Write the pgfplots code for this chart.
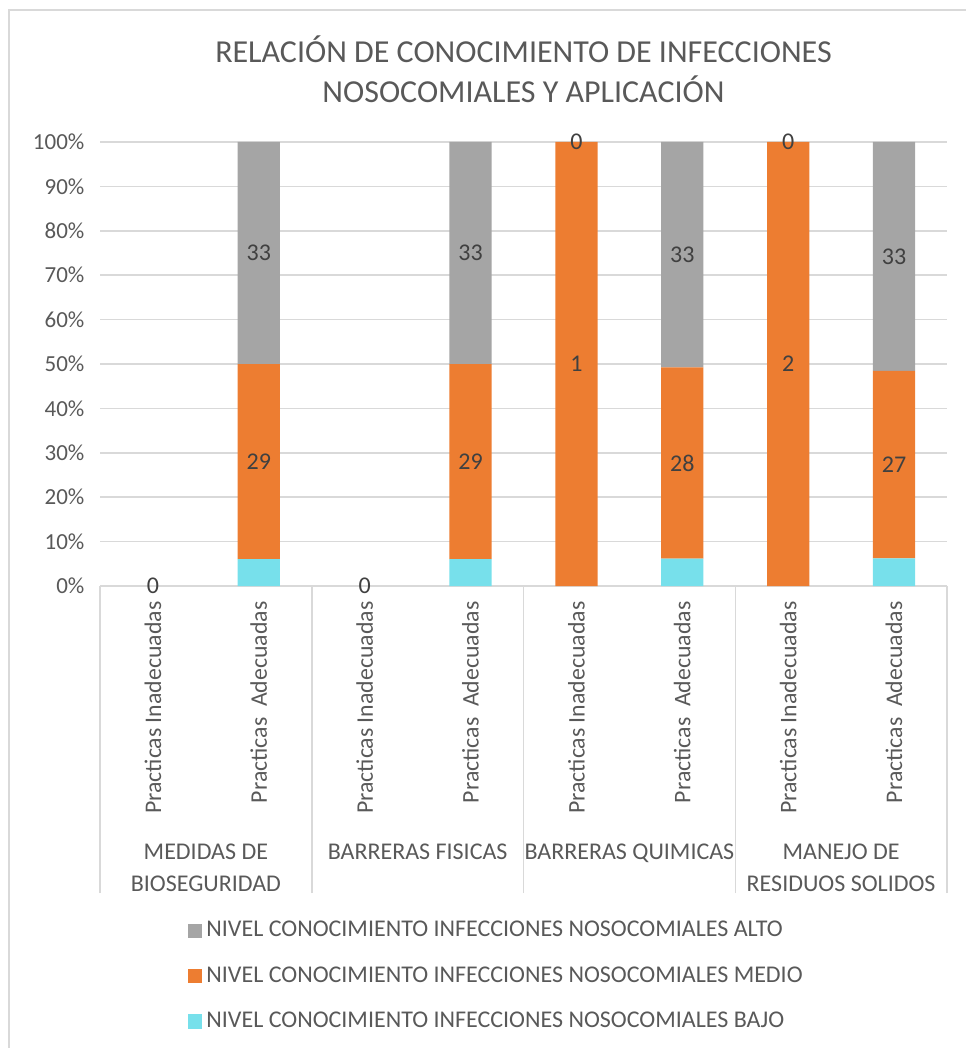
\documentclass[border=0pt]{standalone}
\usepackage{fontspec}
\setmainfont{Carlito}
\usepackage{pgfplots}
\usepackage{pgfplotstable}
\pgfplotsset{compat=1.18}
\definecolor{cAlto}{HTML}{A5A5A5}
\definecolor{cMedio}{HTML}{ED7D31}
\definecolor{cBajo}{HTML}{77E0EB}
\definecolor{cTxt}{HTML}{595959}
\definecolor{cLab}{HTML}{404040}
\definecolor{cGrid}{HTML}{D9D9D9}

\pgfplotstableread{
x bajo medio alto
1 0 0 0
2 6.0606 43.9394 50.0000
3 0 0 0
4 6.0606 43.9394 50.0000
5 0 100 0
6 6.1538 43.0769 50.7692
7 0 100 0
8 6.2500 42.1875 51.5625
}\datatable

\pgfplotstableread{
x y lab
1 0 0
2 28.03 29
2 75.00 33
3 0 0
4 28.03 29
4 75.00 33
5 50 1
5 100 0
6 27.69 28
6 74.62 33
7 50 2
7 100 0
8 27.34 27
8 74.22 33
}\labtable

\newcommand{\fs}{\fontsize{11.5}{13.8}\selectfont}
\newcommand{\fl}{\fontsize{12}{14.4}\selectfont}

\begin{document}
\begin{tikzpicture}
\useasboundingbox (-50pt,-231pt) rectangle (432.5pt,293pt);
\draw[cGrid, line width=1pt] (-45.5pt,-240pt) -- (-45.5pt,288pt) -- (440pt,288pt);
\begin{axis}[
  at={(0,0)}, anchor=south west,
  scale only axis, width=423.5pt, height=222pt,
  ybar stacked, bar width=0.4,
  xmin=0.5, xmax=8.5, ymin=0, ymax=100,
  axis x line*=bottom, axis y line*=left,
  x axis line style={draw=cGrid, line width=0.75pt},
  y axis line style={draw=none},
  ytick={0,10,...,100},
  yticklabel={\pgfmathprintnumber{\tick}\%},
  ymajorgrids, grid style={draw=cGrid, line width=0.75pt},
  major y tick style={draw=none},
  xtick={1,...,8},
  xticklabels={Practicas Inadecuadas,Practicas\ \ Adecuadas,Practicas Inadecuadas,Practicas\ \ Adecuadas,Practicas Inadecuadas,Practicas\ \ Adecuadas,Practicas Inadecuadas,Practicas\ \ Adecuadas},
  x tick label style={rotate=90, anchor=east, font=\fontsize{11.9}{14}\selectfont, text=cTxt},
  major x tick style={draw=none},
  tick align=outside,
  extra x ticks={0.5,2.5,4.5,6.5,8.5},
  extra x tick labels={},
  extra x tick style={major tick length=153.5pt, major x tick style={draw=cGrid, line width=0.75pt}},
  y tick label style={font=\fs, text=cTxt},
  /pgf/number format/assume math mode=true,
  xtick pos=bottom,
  clip=false,
  reverse legend,
  legend style={at={(0,0)}, anchor=north west, xshift=41pt, yshift=-165pt, draw=none, font=\fl, text=cTxt,
    row sep=12.3pt, nodes={inner sep=0pt, text height=8.2pt, text depth=2.2pt}},
  legend cell align=left,
  legend image code/.code={\path[#1, draw=none] (0pt,-3.6pt) rectangle (7pt,3.6pt);},
]
\addplot[fill=cBajo, draw=none] table[x=x, y=bajo]{\datatable};
\addlegendentry{\,NIVEL CONOCIMIENTO INFECCIONES NOSOCOMIALES BAJO}
\addplot[fill=cMedio, draw=none] table[x=x, y=medio]{\datatable};
\addlegendentry{\,NIVEL CONOCIMIENTO INFECCIONES NOSOCOMIALES MEDIO}
\addplot[fill=cAlto, draw=none] table[x=x, y=alto]{\datatable};
\addlegendentry{\,NIVEL CONOCIMIENTO INFECCIONES NOSOCOMIALES ALTO}

\node[anchor=north, align=center, font=\fl, text=cTxt, inner sep=0pt] at (axis cs:1.5,0) [yshift=-129pt] {MEDIDAS DE\\[1.2pt]BIOSEGURIDAD};
\node[anchor=north, align=center, font=\fl, text=cTxt, inner sep=0pt] at (axis cs:3.5,0) [yshift=-129pt] {BARRERAS FISICAS};
\node[anchor=north, align=center, font=\fl, text=cTxt, inner sep=0pt] at (axis cs:5.5,0) [yshift=-129pt] {BARRERAS QUIMICAS};
\node[anchor=north, align=center, font=\fl, text=cTxt, inner sep=0pt] at (axis cs:7.5,0) [yshift=-129pt] {MANEJO DE\\[1.2pt]RESIDUOS SOLIDOS};
\node[align=center, font=\fontsize{16}{20}\selectfont, text=cTxt, inner sep=0pt] at (axis cs:4.5,100) [yshift=36.5pt] {RELACIÓN DE CONOCIMIENTO DE INFECCIONES\\NOSOCOMIALES Y APLICACIÓN};
\end{axis}
\begin{axis}[
  at={(0,0)}, anchor=south west,
  scale only axis, width=423.5pt, height=222pt,
  xmin=0.5, xmax=8.5, ymin=0, ymax=100,
  hide axis, clip=false,
]
\addplot[only marks, mark=none, nodes near coords, point meta=explicit symbolic,
  nodes near coords align=center,
  every node near coord/.append style={font=\fl, text=cLab, anchor=center}]
  table[x=x, y=y, meta=lab]{\labtable};
\end{axis}
\end{tikzpicture}
\end{document}
